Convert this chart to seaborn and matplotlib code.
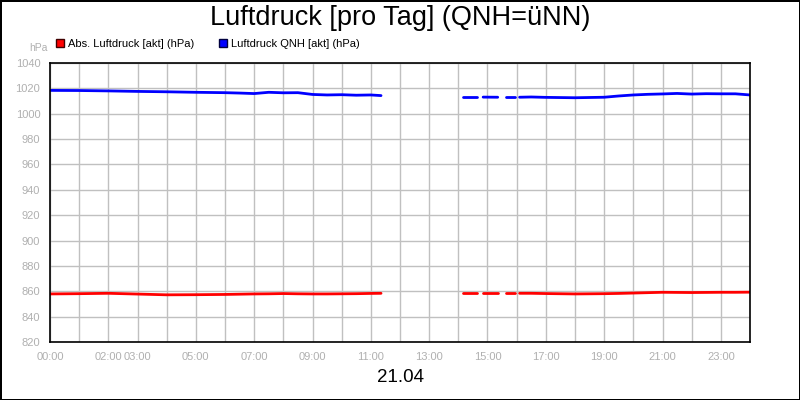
import numpy as np
import pandas as pd
import matplotlib
matplotlib.use('Agg')
import matplotlib.pyplot as plt
import seaborn as sns
from matplotlib.lines import Line2D

# Data: hours of the day, split into segments where data exists
seg_hours = [
    [0, 1, 2, 3, 4, 5, 6, 6.5, 7, 7.5, 8, 8.5, 9, 9.5, 10, 10.5, 11, 11.35],
    [14.15, 14.65],
    [14.85, 15.35],
    [15.65, 15.95],
    [16.1, 16.5, 17, 18, 19, 19.5, 20, 20.5, 21, 21.5, 22, 22.5, 23, 23.5, 24],
]
qnh = [
    [1018.4, 1018.3, 1018.0, 1017.6, 1017.3, 1016.9, 1016.6, 1016.3, 1015.9,
     1016.9, 1016.5, 1016.6, 1015.2, 1014.8, 1015.0, 1014.6, 1014.8, 1014.3],
    [1013.1, 1013.1],
    [1013.1, 1013.0],
    [1013.1, 1013.1],
    [1013.0, 1013.2, 1012.9, 1012.6, 1013.0, 1014.0, 1014.8, 1015.3, 1015.6,
     1016.0, 1015.5, 1015.8, 1015.7, 1015.7, 1014.8],
]
abs_p = [
    [857.9, 858.1, 858.4, 857.8, 857.2, 857.3, 857.5, 857.7, 857.9, 858.0,
     858.2, 858.0, 857.9, 857.9, 858.0, 858.1, 858.3, 858.4],
    [858.4, 858.4],
    [858.4, 858.4],
    [858.5, 858.5],
    [858.4, 858.4, 858.2, 857.9, 858.1, 858.3, 858.6, 858.9, 859.2, 859.1,
     859.0, 859.1, 859.2, 859.2, 859.3],
]
series_names = ['Abs. Luftdruck [akt] (hPa)', 'Luftdruck QNH [akt] (hPa)']
colors = ['#ff0000', '#0000ff']
label_hours = [0, 2, 3, 5, 7, 9, 11, 13, 15, 17, 19, 21, 23]
mark_hours = [0, 1, 2, 4, 6, 8, 10, 12, 14, 16, 18, 20, 22, 24]

rows = []
for name, vals in zip(series_names, [abs_p, qnh]):
    for i, (hs, vs) in enumerate(zip(seg_hours, vals)):
        for h, v in zip(hs, vs):
            rows.append({'hour': h, 'value': v, 'series': name, 'seg': i})
df = pd.DataFrame(rows)

sns.set_style('white')
plt.rcParams['font.family'] = ['Liberation Sans', 'DejaVu Sans']
plt.rcParams['text.color'] = 'black'

fig = plt.figure(figsize=(8, 4), dpi=100)
fig.patch.set_edgecolor('black')
fig.patch.set_linewidth(2)
ax = fig.add_axes([0.0625, 0.145, 0.875, 0.6975])

sns.lineplot(data=df, x='hour', y='value', hue='series', units='seg',
             estimator=None, palette=dict(zip(series_names, colors)),
             linewidth=2, legend=False, ax=ax)

ax.set_xlim(0, 24)
ax.set_ylim(820, 1040)
ax.set_yticks(np.arange(820, 1041, 20))
ax.set_xticks(range(25))
ax.set_xticklabels([f'{h:02d}:00' if h in label_hours else '' for h in range(25)])
ax.set_xticks(mark_hours, minor=True)
ax.grid(True, color='#c0c0c0', linewidth=1)
ax.set_axisbelow(True)
ax.tick_params(axis='x', which='major', length=0, labelsize=8, labelcolor='#b0b0b0', pad=7)
ax.tick_params(axis='x', which='minor', length=5, color='#a0a0a0', width=1)
ax.tick_params(axis='y', length=5, color='#a0a0a0', labelsize=8, labelcolor='#b0b0b0', pad=2)
for s in ax.spines.values():
    s.set_color('black')
    s.set_linewidth(1.2)
ax.set_xlabel('')
ax.set_ylabel('')

fig.text(0.5, 0.955, 'Luftdruck [pro Tag] (QNH=üNN)', ha='center', va='center',
         fontsize=19.5, color='black')
fig.text(0.5, 0.055, '21.04', ha='center', va='center', fontsize=13.5, color='black')
fig.text(38 / 800, 1 - 48 / 400, 'hPa', ha='center', va='center', fontsize=7.5, color='#b0b0b0')

handles = [Line2D([], [], linestyle='none', marker='s', markersize=6,
                  markerfacecolor=c, markeredgecolor='#400000' if c == '#ff0000' else '#000040')
           for c in colors]
leg = fig.legend(handles, series_names, loc='center left', bbox_to_anchor=(0.071, 0.89),
                 ncol=2, frameon=False, fontsize=8, handlelength=0.6, handletextpad=0.4,
                 columnspacing=2.3, borderaxespad=0, borderpad=0)
for t in leg.get_texts():
    t.set_color('black')

fig.savefig('out.png', dpi=100)
